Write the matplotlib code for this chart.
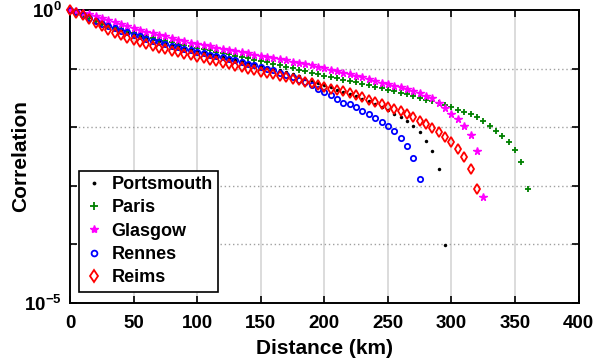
import numpy as np
import matplotlib
matplotlib.use("Agg")
import matplotlib.pyplot as plt

plt.rcParams["font.family"] = ["Liberation Sans", "DejaVu Sans"]
plt.rcParams["font.weight"] = "bold"
plt.rcParams["mathtext.fontset"] = "custom"
plt.rcParams["mathtext.rm"] = "Liberation Sans:bold"
plt.rcParams["mathtext.bf"] = "Liberation Sans:bold"

# distance sampled every 5 km
dist = np.arange(0, 365, 5)

# log10(correlation)
portsmouth = [0, -0.04, -0.08, -0.12, -0.17, -0.22, -0.26, -0.30, -0.34, -0.37,
              -0.41, -0.44, -0.47, -0.50, -0.53, -0.56, -0.59, -0.62, -0.64, -0.67,
              -0.70, -0.72, -0.75, -0.77, -0.80, -0.82, -0.85, -0.87, -0.90, -0.92,
              -0.95, -0.97, -1.00, -1.03, -1.06, -1.09, -1.13, -1.17, -1.21, -1.25,
              -1.28, -1.32, -1.36, -1.40, -1.43, -1.47, -1.52, -1.56, -1.61, -1.66,
              -1.71, -1.77, -1.83, -1.90, -1.98, -2.09, -2.23, -2.40, -2.71, -4.02]
paris = [0, -0.05, -0.10, -0.14, -0.18, -0.22, -0.26, -0.30, -0.33, -0.36,
         -0.39, -0.42, -0.45, -0.48, -0.51, -0.53, -0.55, -0.58, -0.60, -0.62,
         -0.64, -0.66, -0.69, -0.71, -0.73, -0.75, -0.78, -0.80, -0.82, -0.85,
         -0.87, -0.89, -0.92, -0.94, -0.97, -0.99, -1.02, -1.04, -1.07, -1.09,
         -1.12, -1.14, -1.16, -1.19, -1.21, -1.23, -1.26, -1.28, -1.31, -1.33,
         -1.36, -1.38, -1.41, -1.44, -1.47, -1.50, -1.53, -1.56, -1.59, -1.62,
         -1.65, -1.70, -1.74, -1.78, -1.83, -1.90, -1.98, -2.07, -2.15, -2.25,
         -2.39, -2.60, -3.05]
glasgow = [0, -0.02, -0.05, -0.07, -0.10, -0.13, -0.17, -0.20, -0.24, -0.27,
           -0.31, -0.34, -0.37, -0.39, -0.42, -0.45, -0.48, -0.51, -0.53, -0.56,
           -0.58, -0.60, -0.62, -0.64, -0.66, -0.68, -0.70, -0.72, -0.74, -0.76,
           -0.78, -0.80, -0.82, -0.84, -0.86, -0.88, -0.90, -0.92, -0.94, -0.97,
           -0.99, -1.02, -1.04, -1.07, -1.09, -1.12, -1.15, -1.18, -1.21, -1.24,
           -1.27, -1.30, -1.32, -1.35, -1.38, -1.42, -1.46, -1.51, -1.58, -1.68,
           -1.77, -1.86, -1.98, -2.14, -2.41, -3.19]
rennes = [0, -0.04, -0.08, -0.13, -0.18, -0.23, -0.27, -0.31, -0.35, -0.38,
          -0.42, -0.45, -0.49, -0.52, -0.55, -0.58, -0.61, -0.63, -0.66, -0.69,
          -0.71, -0.74, -0.76, -0.79, -0.81, -0.84, -0.86, -0.89, -0.92, -0.94,
          -0.97, -1.00, -1.03, -1.07, -1.11, -1.15, -1.19, -1.23, -1.28, -1.34,
          -1.40, -1.45, -1.52, -1.58, -1.61, -1.66, -1.72, -1.77, -1.84, -1.91,
          -1.98, -2.07, -2.18, -2.32, -2.52, -2.89]
reims = [0, -0.05, -0.09, -0.15, -0.22, -0.28, -0.34, -0.39, -0.43, -0.47,
         -0.51, -0.54, -0.58, -0.61, -0.64, -0.67, -0.70, -0.72, -0.75, -0.77,
         -0.80, -0.82, -0.85, -0.87, -0.90, -0.92, -0.95, -0.97, -1.00, -1.02,
         -1.05, -1.07, -1.10, -1.12, -1.15, -1.17, -1.20, -1.23, -1.25, -1.28,
         -1.31, -1.34, -1.36, -1.39, -1.42, -1.45, -1.49, -1.53, -1.57, -1.61,
         -1.65, -1.69, -1.73, -1.77, -1.82, -1.89, -1.95, -2.02, -2.09, -2.17,
         -2.26, -2.37, -2.51, -2.71, -3.05]

fig = plt.figure(figsize=(5.94, 3.6), dpi=100)
ax = fig.add_axes([0.118, 0.159, 0.856, 0.813])

series = [
    ("Portsmouth", portsmouth, dict(marker=".", color="black", ms=5, mew=0)),
    ("Paris", paris, dict(marker="+", color="#008000", ms=5, mew=1.3)),
    ("Glasgow", glasgow, dict(marker="*", color="magenta", ms=5.5, mew=1.0)),
    ("Rennes", rennes, dict(marker="o", color="blue", ms=3.8, mew=1.3, mfc="none")),
    ("Reims", reims, dict(marker="d", color="red", ms=5.4, mew=1.3, mfc="none")),
]
for nombre, vals, estilo in series:
    ax.plot(dist[:len(vals)], 10 ** np.array(vals), linestyle="none",
            label=nombre, clip_on=False, zorder=3, **estilo)

ax.set_yscale("log")
ax.set_xlim(0, 400)
ax.set_ylim(1e-5, 1)
ax.set_xticks(np.arange(0, 401, 50))
ax.set_yticks([1e-5, 1e-4, 1e-3, 1e-2, 1e-1, 1])
ax.set_yticklabels([r"$\mathbf{10^{-5}}$", "", "", "", "", r"$\mathbf{10^{0}}$"])
ax.yaxis.set_minor_locator(matplotlib.ticker.NullLocator())

# rejilla: verticales sólidas, horizontales punteadas
for xv in range(50, 400, 50):
    ax.axvline(xv, color="#d9d9d9", lw=1.3, zorder=0)
for yv in [1e-4, 1e-3, 1e-2, 1e-1]:
    ax.axhline(yv, color="#a0a0a0", lw=1, ls=(0, (1, 2)), zorder=0)

ax.tick_params(direction="in", top=True, right=True, length=5, width=1.2,
               labelsize=13.5, pad=6)
ax.tick_params(axis="x", pad=9)
for s in ax.spines.values():
    s.set_linewidth(1.4)

ax.set_xlabel("Distance (km)", fontsize=15, fontweight="bold", labelpad=4.5)
ax.set_ylabel("Correlation", fontsize=15, fontweight="bold")
ax.yaxis.set_label_coords(-0.078, 0.5)

leg = ax.legend(loc="lower left", bbox_to_anchor=(0.018, 0.038), borderaxespad=0,
                fontsize=13, fancybox=False, edgecolor="black", framealpha=1,
                handlelength=1.0, handletextpad=0.5, labelspacing=0.35,
                borderpad=0.3, numpoints=1, markerscale=1.1)
leg.get_frame().set_linewidth(1.2)

fig.savefig("out.png", dpi=100)
